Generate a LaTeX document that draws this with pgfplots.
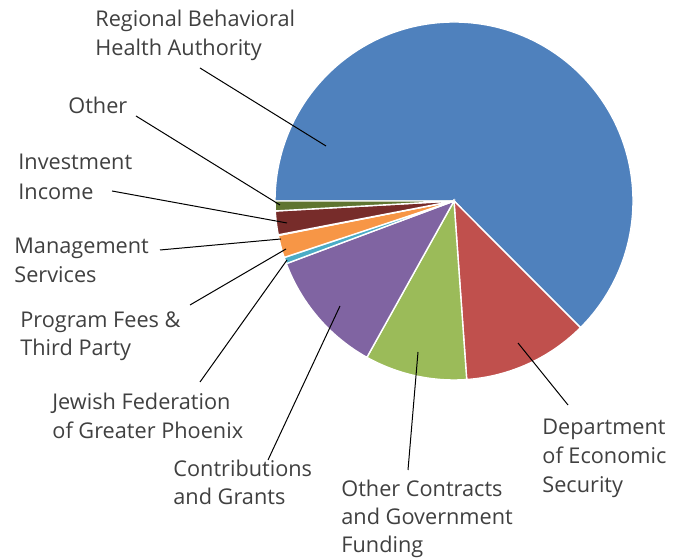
\documentclass[border=0pt]{standalone}
\usepackage{pgfplots}
\usepackage{pgfplotstable}
\pgfplotsset{compat=1.18}
\usepackage{fontspec}
\setmainfont{Open Sans}

\definecolor{pie0}{HTML}{4F81BD}
\definecolor{pie1}{HTML}{C0504D}
\definecolor{pie2}{HTML}{9BBB59}
\definecolor{pie3}{HTML}{8064A2}
\definecolor{pie4}{HTML}{4BACC6}
\definecolor{pie5}{HTML}{F79646}
\definecolor{pie6}{HTML}{2C4D75}
\definecolor{pie7}{HTML}{772C2A}
\definecolor{pie8}{HTML}{5F7530}
\definecolor{txt}{HTML}{404040}

% share of revenue, percent, clockwise from 9 o'clock
\pgfplotstableread[col sep=comma]{
source,value
Regional Behavioral Health Authority,62.51
Department of Economic Security,11.36
Other Contracts and Government Funding,9.22
Contributions and Grants,11.22
Jewish Federation of Greater Phoenix,0.58
Program Fees and Third Party,2.03
Management Services,0.05
Investment Income,2.14
Other,0.89
}\piedata

\begin{document}
\begin{tikzpicture}
% cumulative angles
\xdef\acc{180}
\foreach \i in {0,...,8}{
  \pgfplotstablegetelem{\i}{value}\of\piedata
  \pgfmathsetmacro\e{\acc-\pgfplotsretval*3.6}
  \expandafter\xdef\csname s\i\endcsname{\acc}
  \expandafter\xdef\csname e\i\endcsname{\e}
  \xdef\acc{\e}
}
\begin{axis}[
  scale only axis, width=342pt, height=279pt,
  xmin=0, xmax=684, ymin=-558, ymax=0,
  hide axis, clip=false,
]
\path (axis cs:0,0) rectangle (axis cs:684,-558);
\pgfplotsinvokeforeach{0,...,8}{
  \fill[fill=pie#1, draw=white, line width=0.7pt]
    (axis cs:454,-201) -- ([shift={(\csname s#1\endcsname:89.5pt)}]axis cs:454,-201)
    arc[start angle=\csname s#1\endcsname, end angle=\csname e#1\endcsname, radius=89.5pt] -- cycle;
}
% leader lines
\draw[black, line width=0.5pt] (axis cs:200,-68) -- (axis cs:326,-146);
\draw[black, line width=0.5pt] (axis cs:136,-116) -- (axis cs:280,-205);
\draw[black, line width=0.5pt] (axis cs:112,-191) -- (axis cs:287,-223);
\draw[black, line width=0.5pt] (axis cs:160,-250) -- (axis cs:281,-239);
\draw[black, line width=0.5pt] (axis cs:190,-305) -- (axis cs:286,-249);
\draw[black, line width=0.5pt] (axis cs:200,-382) -- (axis cs:287,-260);
\draw[black, line width=0.5pt] (axis cs:268,-460) -- (axis cs:340,-306);
\draw[black, line width=0.5pt] (axis cs:408,-470) -- (axis cs:418,-352);
\draw[black, line width=0.5pt] (axis cs:568,-405) -- (axis cs:518,-343);
% labels
\tikzset{lab/.style={anchor=base west, inner sep=0pt, text=txt, font=\fontsize{10.85}{12}\selectfont}}
\node[lab] at (axis cs:95,-27) {Regional Behavioral};
\node[lab] at (axis cs:95,-56) {Health Authority};
\node[lab] at (axis cs:68,-114) {Other};
\node[lab] at (axis cs:18,-170) {Investment};
\node[lab] at (axis cs:18,-200) {Income};
\node[lab] at (axis cs:14,-254) {Management};
\node[lab] at (axis cs:14,-283) {Services};
\node[lab] at (axis cs:20,-328) {Program Fees \&};
\node[lab] at (axis cs:20,-356) {Third Party};
\node[lab] at (axis cs:52,-410) {Jewish Federation};
\node[lab] at (axis cs:52,-439) {of Greater Phoenix};
\node[lab] at (axis cs:173,-477) {Contributions};
\node[lab] at (axis cs:173,-505) {and Grants};
\node[lab] at (axis cs:341,-497) {Other Contracts};
\node[lab] at (axis cs:341,-525) {and Government};
\node[lab] at (axis cs:341,-553) {Funding};
\node[lab] at (axis cs:542,-435) {Department};
\node[lab] at (axis cs:542,-464) {of Economic};
\node[lab] at (axis cs:542,-493) {Security};
\end{axis}
\end{tikzpicture}
\end{document}
